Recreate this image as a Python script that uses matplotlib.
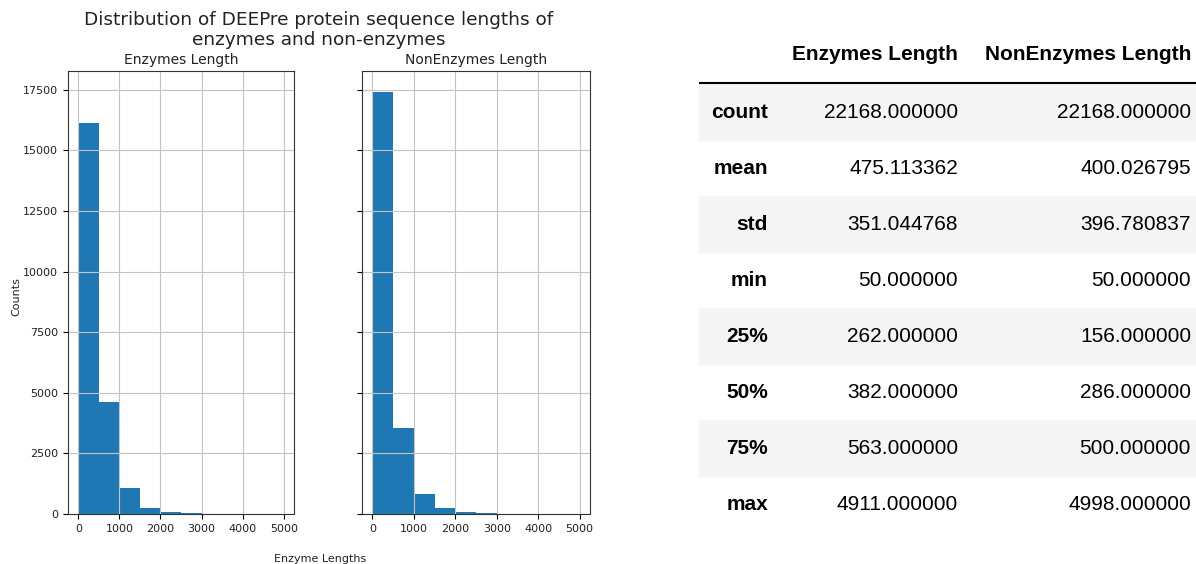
import numpy as np
import matplotlib.pyplot as plt

# ---------------- histogram counts (10 bins of 500 residues) ----------------
bin_edges = [0, 500, 1000, 1500, 2000, 2500, 3000, 3500, 4000, 4500, 5000]
enzyme_counts = [16120, 4610, 1060, 240, 85, 35, 10, 4, 2, 2]
nonenzyme_counts = [17400, 3560, 815, 235, 85, 35, 20, 10, 5, 3]

# ---------------- describe() summary ----------------
stat_names = ['count', 'mean', 'std', 'min', '25%', '50%', '75%', 'max']
enzyme_stats = [22168.0, 475.113362, 351.044768, 50.0, 262.0, 382.0, 563.0, 4911.0]
nonenzyme_stats = [22168.0, 400.026795, 396.780837, 50.0, 156.0, 286.0, 500.0, 4998.0]
col_names = ['Enzymes Length', 'NonEnzymes Length']

W, H = 1196, 564
fig = plt.figure(figsize=(W / 100, H / 100), dpi=100)


def px_axes(x0, y0, x1, y1, **kw):
    # axes placed by pixel box (top-left origin)
    return fig.add_axes([x0 / W, 1 - y1 / H, (x1 - x0) / W, (y1 - y0) / H], **kw)


ax1 = px_axes(68, 71, 294, 514)
ax2 = px_axes(362, 71, 590, 514, sharey=ax1)

for ax, counts, name in [(ax1, enzyme_counts, col_names[0]),
                         (ax2, nonenzyme_counts, col_names[1])]:
    ax.hist(bin_edges[:-1], bins=bin_edges, weights=counts, color='#1f77b4')
    ax.grid(True, color='#c4c4c4', linewidth=0.8)
    ax.set_title(name, fontsize=10, pad=5, color='#222222')
    ax.set_xticks([0, 1000, 2000, 3000, 4000, 5000])
    ax.tick_params(labelsize=8, labelcolor='#222222')
    for s in ax.spines.values():
        s.set_color('#333333')

ax1.set_yticks([0, 2500, 5000, 7500, 10000, 12500, 15000, 17500])
ax2.tick_params(labelleft=False)

fig.text(319 / W, 1 - 30 / H,
         'Distribution of DEEPre protein sequence lengths of\nenzymes and non-enzymes',
         ha='center', va='center', fontsize=13.3, color='#222222',
         linespacing=1.15)
fig.text(16 / W, 1 - 297 / H, 'Counts', rotation=90, ha='center', va='center',
         fontsize=8, color='#222222')
fig.text(320 / W, 1 - 559 / H, 'Enzyme Lengths', ha='center', va='center',
         fontsize=8, color='#222222')

# ---------------- summary table ----------------
tab = px_axes(699, 0, W, H)
tab.set_xlim(699, W)
tab.set_ylim(H, 0)
tab.axis('off')

tfont = ['Liberation Sans', 'DejaVu Sans']
row_top = 84
row_h = 56
tab.text(958, 55, col_names[0], ha='right', va='center', fontsize=15,
         fontweight='bold', family=tfont)
tab.text(1191, 55, col_names[1], ha='right', va='center', fontsize=15,
         fontweight='bold', family=tfont)
tab.plot([699, W], [83, 83], color='black', linewidth=1.5)

for i, name in enumerate(stat_names):
    top = row_top + i * row_h
    if i % 2 == 0:
        tab.axhspan(top, top + row_h, color='#f5f5f5', zorder=0)
    yc = top + row_h / 2
    tab.text(768, yc, name, ha='right', va='center', fontsize=15,
             fontweight='bold', family=tfont)
    tab.text(958, yc, '%.6f' % enzyme_stats[i], ha='right', va='center',
             fontsize=15, family=tfont)
    tab.text(1191, yc, '%.6f' % nonenzyme_stats[i], ha='right', va='center',
             fontsize=15, family=tfont)

fig.savefig('out.png', dpi=100)
